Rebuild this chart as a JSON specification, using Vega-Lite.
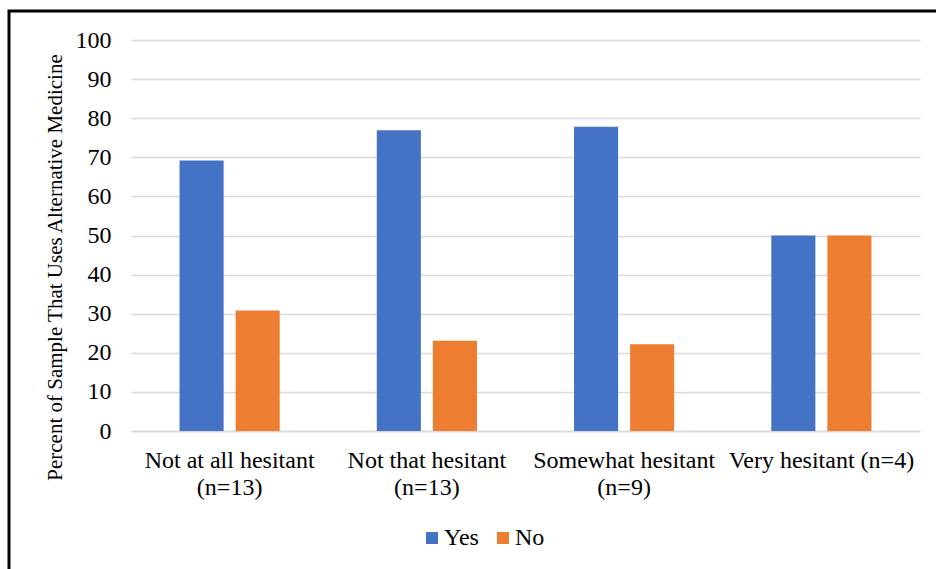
{
  "$schema": "https://vega.github.io/schema/vega-lite/v6.json",
  "autosize": {"type": "none"},
  "width": 1000,
  "height": 600,
  "padding": {"left": 9, "top": 11, "right": 0, "bottom": 0},
  "background": "white",
  "data": {
    "values": [
      {"group": "Not at all hesitant|(n=13)", "answer": "Yes", "percent": 69.2},
      {"group": "Not at all hesitant|(n=13)", "answer": "No", "percent": 30.8},
      {"group": "Not that hesitant|(n=13)", "answer": "Yes", "percent": 76.9},
      {"group": "Not that hesitant|(n=13)", "answer": "No", "percent": 23.1},
      {"group": "Somewhat hesitant|(n=9)", "answer": "Yes", "percent": 77.8},
      {"group": "Somewhat hesitant|(n=9)", "answer": "No", "percent": 22.2},
      {"group": "Very hesitant (n=4)", "answer": "Yes", "percent": 50},
      {"group": "Very hesitant (n=4)", "answer": "No", "percent": 50}
    ]
  },
  "mark": {"type": "bar"},
  "encoding": {
    "x": {
      "field": "group",
      "type": "nominal",
      "sort": null,
      "scale": {"range": [122, 911], "paddingInner": 0, "paddingOuter": 0},
      "axis": {
        "title": null,
        "offset": -180,
        "labelAngle": 0,
        "labelExpr": "split(datum.label, '|')",
        "labelFont": "Times New Roman, Liberation Serif, serif",
        "labelFontSize": 24,
        "labelColor": "#000000",
        "labelPadding": 17,
        "labelLineHeight": 27,
        "labelLimit": 0,
        "ticks": false,
        "domainColor": "#d9d9d9",
        "domainWidth": 1.5,
        "grid": false
      }
    },
    "xOffset": {
      "field": "answer",
      "type": "nominal",
      "sort": ["Yes", "No"],
      "scale": {"paddingInner": 0.214, "paddingOuter": 0.866}
    },
    "y": {
      "field": "percent",
      "type": "quantitative",
      "scale": {"domain": [0, 100], "range": [420, 29], "nice": false, "zero": true},
      "axis": {
        "title": "Percent of Sample That Uses Alternative Medicine",
        "titleFont": "Times New Roman, Liberation Serif, serif",
        "titleFontSize": 21,
        "titleFontWeight": "normal",
        "titleColor": "#000000",
        "titlePadding": 10,
        "titleY": 256,
        "offset": -122,
        "values": [0, 10, 20, 30, 40, 50, 60, 70, 80, 90, 100],
        "labelFont": "Times New Roman, Liberation Serif, serif",
        "labelFontSize": 24,
        "labelColor": "#000000",
        "labelPadding": 20,
        "ticks": false,
        "domain": false,
        "grid": true,
        "gridColor": "#d9d9d9",
        "gridWidth": 1.5
      }
    },
    "color": {
      "field": "answer",
      "type": "nominal",
      "sort": ["Yes", "No"],
      "scale": {"domain": ["Yes", "No"], "range": ["#4472C4", "#ED7D31"]},
      "legend": {
        "title": null,
        "orient": "none",
        "direction": "horizontal",
        "legendX": 411,
        "legendY": 515,
        "symbolType": "square",
        "symbolSize": 144,
        "symbolStrokeWidth": 0,
        "symbolOpacity": 1,
        "labelFont": "Times New Roman, Liberation Serif, serif",
        "labelFontSize": 24,
        "labelColor": "#000000",
        "labelOffset": 0,
        "columnPadding": 12
      }
    }
  },
  "config": {
    "view": {"stroke": "#000000", "strokeWidth": 3},
    "axis": {"gridCap": "butt"}
  }
}
